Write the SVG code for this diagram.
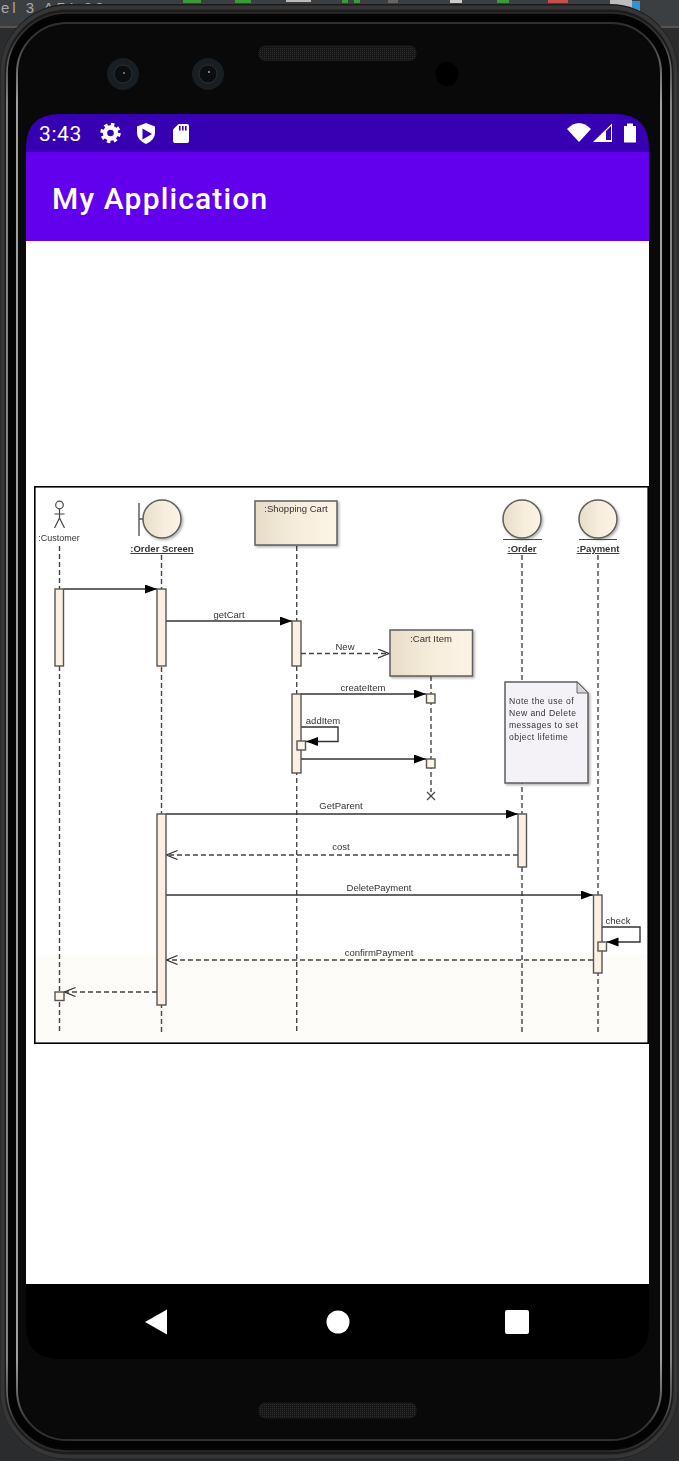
<svg xmlns="http://www.w3.org/2000/svg" width="679" height="1461" viewBox="0 0 679 1461">
<style>
.lbl{font-family:"Liberation Sans",Arial,sans-serif;font-size:9.5px;fill:#333;text-anchor:middle}
.ul{font-weight:bold;text-decoration:underline}
.life{stroke:#444;stroke-width:1.4;stroke-dasharray:5 3;fill:none}
.act{fill:#fbf0e2;stroke:#555;stroke-width:1.4}
.sq{fill:#fcf5e6;stroke:#555;stroke-width:1.4}
.msg{stroke:#333;stroke-width:1.4;fill:none}
.dash{stroke:#444;stroke-width:1.4;fill:none;stroke-dasharray:5 3}
.obj{fill:url(#beige);stroke:#5e5e5e;stroke-width:1.5;filter:url(#shadow)}
.ico{fill:#fff}
</style>
<defs>
<linearGradient id="beige"><stop offset="0" stop-color="#e6dcc8"/><stop offset=".55" stop-color="#f7eedd"/><stop offset="1" stop-color="#fbf3e4"/></linearGradient>
<linearGradient id="shine" gradientUnits="userSpaceOnUse" x1="0" y1="0" x2="0" y2="1461"><stop offset="0" stop-color="#2a2a2a"/><stop offset=".025" stop-color="#333"/><stop offset=".07" stop-color="#a0a0a0"/><stop offset=".93" stop-color="#a0a0a0"/><stop offset=".975" stop-color="#333"/><stop offset="1" stop-color="#2a2a2a"/></linearGradient>
<filter id="shadow" x="-10%" y="-10%" width="125%" height="125%"><feDropShadow dx="1.5" dy="1.5" stdDeviation="1" flood-color="#000" flood-opacity=".3"/></filter>
<filter id="soft" x="0" y="0" width="100%" height="100%"><feGaussianBlur stdDeviation="0.5"/></filter>
<pattern id="mesh" width="2" height="2" patternUnits="userSpaceOnUse"><rect width="2" height="2" fill="#161616"/><rect width="1" height="1" fill="#2e2e2e"/></pattern>
<marker id="fill" markerWidth="13" markerHeight="10" refX="12" refY="4.5" orient="auto" markerUnits="userSpaceOnUse"><path d="M0 0L12 4.5L0 9Z" fill="#000"/></marker>
<marker id="open" markerWidth="12" markerHeight="11" refX="11" refY="5" orient="auto" markerUnits="userSpaceOnUse"><path d="M0 .5L11 5L0 9.5" fill="none" stroke="#333" stroke-width="1.2"/></marker>
</defs>

<g id="desktop">
<rect width="679" height="1461" fill="#2b2c2d"/>
<rect width="679" height="26" fill="#3c3f41"/>
<rect y="26" width="679" height="2" fill="#555"/>
<text x="1" y="13" font-family="'Liberation Sans',Arial,sans-serif" font-size="15" letter-spacing="3" fill="#a9a9a9">el 3 API 30</text>
<rect x="183" y="0" width="18" height="3" fill="#3c9a3c"/><rect x="235" y="0" width="16" height="3" fill="#3c9a3c"/>
<rect x="286" y="0" width="25" height="2" fill="#bbb"/><rect x="342" y="0" width="6" height="3" fill="#3c9a3c"/><rect x="354" y="0" width="6" height="3" fill="#3c9a3c"/>
<rect x="388" y="0" width="10" height="3" fill="#666"/><rect x="450" y="0" width="12" height="3" fill="#ccc"/><rect x="497" y="0" width="12" height="3" fill="#3c9a3c"/>
<rect x="548" y="0" width="20" height="3" fill="#c44f4f"/><rect x="610" y="0" width="22" height="9" fill="#bdbdbd"/><rect x="632" y="1" width="8" height="14" fill="#3592d0"/>
</g>

<g id="phone">
<rect x="0" y="4" width="678" height="1455.5" rx="68" fill="#1c1c1c"/>
<rect x="2.5" y="7.5" width="673" height="1449" rx="65" fill="none" stroke="#363636" stroke-width="4"/>
<rect x="7" y="13" width="664" height="1438" rx="60" fill="#050505" stroke="url(#shine)" stroke-width="1.6" />
<rect x="12" y="19" width="654" height="1426" rx="56" fill="none" stroke="#030303" stroke-width="6"/>
<rect x="17" y="23" width="644" height="1417" rx="50" fill="#090909" stroke="url(#shine)" stroke-width="2"/>
<rect x="19.5" y="26" width="639" height="1412" rx="47" fill="#090909"/>
<g id="cameras">
<ellipse cx="123" cy="74" rx="16" ry="16" fill="#181e22"/><circle cx="123" cy="74" r="9" fill="#0b0d0f" stroke="#2b3034"/><circle cx="124" cy="73" r="1" fill="#889"/>
<ellipse cx="208" cy="74" rx="16" ry="16" fill="#181e22"/><circle cx="208" cy="74" r="9" fill="#0b0d0f" stroke="#2b3034"/><circle cx="209" cy="72" r="1" fill="#aab"/>
<ellipse cx="447" cy="74" rx="11.5" ry="12" fill="#000"/>
</g>
<rect id="speaker-top" x="259" y="46" width="157" height="14.5" rx="6" fill="url(#mesh)" stroke="#1c1c1c"/>
<rect id="speaker-bottom" x="259" y="1403" width="157" height="15" rx="6" fill="url(#mesh)" stroke="#1c1c1c"/>
</g>

<g id="screen">
<path d="M26 152V148Q26 114 60 114H615Q649 114 649 148V152Z" fill="#3700b3"/>
<rect x="26" y="152" width="623" height="89" fill="#6200ee"/>
<rect x="26" y="241" width="623" height="1043" fill="#fff"/>
<path d="M26 1284H649V1325Q649 1359 615 1359H60Q26 1359 26 1325Z" fill="#000"/>
<text x="39" y="141" font-family="Roboto,sans-serif" font-size="21" letter-spacing=".6" fill="#fff">3:43</text>
<g id="status-left">
<circle cx="110.5" cy="133" r="8.5" fill="none" stroke="#fff" stroke-width="3.4" stroke-dasharray="3.4 3.3"/>
<circle cx="110.5" cy="133" r="5.5" fill="none" stroke="#fff" stroke-width="4.4"/>
<path class="ico" d="M146 123L155 126.5V133Q155 140 146 144Q137 140 137 133V126.5Z"/>
<path d="M142.5 128.5L152 134L142.5 139.5Z" fill="#3700b3"/>
<path class="ico" d="M178.5 124H187Q189 124 189 126V141Q189 143 187 143H175Q173 143 173 141V129.5Z"/>
<path d="M179 126h1.6v4.5H179zM182 126h1.6v4.5H182zM185 126h1.6v4.5H185z" fill="#3700b3"/>
</g>
<g id="status-right">
<path class="ico" d="M567 129Q579 117 591 129L579 142Z"/>
<path class="ico" d="M593 142L612 123.5V142ZM606 131V140H611V126Z" fill-rule="evenodd"/>
<path class="ico" d="M627 123.5H633V126H636V142.5H624V126H627Z"/>
</g>
<text x="52" y="209" font-family="Roboto,sans-serif" font-weight="500" font-size="30" letter-spacing="1.15" fill="#fff">My Application</text>
<path class="ico" d="M145 1322L167 1309.5V1334.5Z"/>
<circle class="ico" cx="338" cy="1322" r="11.5"/>
<rect class="ico" x="505" y="1310" width="24" height="24" rx="2"/>
</g>

<g id="diagram" filter="url(#soft)">
<g id="frame">
<rect x="34.5" y="486.5" width="614" height="557" fill="#fff"/>
<rect x="35" y="955" width="613" height="88" fill="#fdfcf8"/>
<rect x="34.5" y="486.5" width="614" height="557" fill="none" stroke="#000" stroke-width="2.2"/>
</g>
<g id="connectors">
<path class="life" d="M59.5 546V1032"/>
<path class="life" d="M161.5 555V1032"/>
<path class="life" d="M296.7 546V1032"/>
<path class="life" d="M431 676V792"/>
<path class="life" d="M522 555V1032"/>
<path class="life" d="M598 555V1032"/>
<path class="msg" marker-end="url(#fill)" d="M63.5 589H157"/>
<path class="msg" marker-end="url(#fill)" d="M166 621H292"/>
<path class="dash" marker-end="url(#open)" d="M301 653.5H389"/>
<path class="msg" marker-end="url(#fill)" d="M301 694H426"/>
<path class="msg" marker-end="url(#fill)" d="M301 727H338V741.5H306"/>
<path class="msg" marker-end="url(#fill)" d="M301 759H426"/>
<path class="msg" marker-end="url(#fill)" d="M166 814H518"/>
<path class="dash" marker-end="url(#open)" d="M518 855H166.5"/>
<path class="msg" marker-end="url(#fill)" d="M166 895H593"/>
<path class="msg" marker-end="url(#fill)" d="M602 927H640V942H606.5"/>
<path class="dash" marker-end="url(#open)" d="M593 960H166.5"/>
<path class="dash" marker-end="url(#open)" d="M157 992H64.5"/>
<path d="M427 792L435 800M435 792L427 800" stroke="#444" stroke-width="1.2"/>
</g>
<g id="customer">
<circle cx="59.5" cy="505" r="3.8" fill="#fff" stroke="#444" stroke-width="1.2"/>
<path d="M59.5 509V518M54.5 514H64.5M59.5 518L54.5 528M59.5 518L64.5 528" stroke="#444" stroke-width="1.2" fill="none"/>
<text class="lbl" x="59" y="541" style="font-size:9px">:Customer</text>
<rect class="act" x="55" y="589" width="8.5" height="77"/>
<rect class="sq" x="55" y="992" width="9" height="8.5"/>
</g>
<g id="order-screen">
<path d="M139 503V536M139 519H143" stroke="#555" stroke-width="1.4" fill="none"/>
<circle class="obj" cx="162" cy="519" r="19"/>
<text class="lbl ul" x="162" y="552">:Order Screen</text>
<rect class="act" x="157" y="589" width="9" height="77"/>
<rect class="act" x="157" y="814" width="9" height="191"/>
</g>
<g id="shopping-cart">
<rect class="obj" x="255" y="501" width="82" height="44"/>
<text class="lbl" x="296" y="512">:Shopping Cart</text>
<rect class="act" x="292" y="621" width="9" height="45"/>
<rect class="act" x="292" y="694" width="9" height="79"/>
<rect class="sq" x="297" y="741" width="8.5" height="9"/>
</g>
<g id="cart-item">
<rect class="obj" x="390" y="630" width="82.5" height="46"/>
<text class="lbl" x="431" y="642">:Cart Item</text>
<rect class="sq" x="426.5" y="694" width="8.5" height="9"/>
<rect class="sq" x="426.5" y="759" width="8.5" height="9"/>
</g>
<g id="order">
<circle class="obj" cx="522" cy="519" r="19"/>
<path d="M503 539.5H542" stroke="#444" stroke-width="1.2"/>
<text class="lbl ul" x="522" y="552">:Order</text>
<rect class="act" x="518" y="814" width="8.5" height="53"/>
</g>
<g id="payment">
<circle class="obj" cx="598" cy="519" r="19"/>
<path d="M579 539.5H617" stroke="#444" stroke-width="1.2"/>
<text class="lbl ul" x="598" y="552">:Payment</text>
<rect class="act" x="593.5" y="895" width="8.5" height="78"/>
<rect class="sq" x="598" y="942" width="8.5" height="9"/>
</g>
<g id="note">
<path d="M505 682H577L588 693V783H505Z" fill="#f5f2f7" stroke="#5e5e5e" stroke-width="1.5" filter="url(#shadow)"/>
<path d="M577 682V693H588Z" fill="#d8d6da" stroke="#666" stroke-width="1"/>
<text font-family="'Liberation Sans',Arial,sans-serif" font-size="8.6" fill="#333" letter-spacing=".45">
<tspan x="509" y="704">Note the use of</tspan>
<tspan x="509" y="716">New and Delete</tspan>
<tspan x="509" y="728">messages to set</tspan>
<tspan x="509" y="740">object lifetime</tspan>
</text>
</g>
<g id="message-labels">
<text class="lbl" x="229" y="618">getCart</text>
<text class="lbl" x="345" y="650">New</text>
<text class="lbl" x="363" y="691">createItem</text>
<text class="lbl" x="323" y="724">addItem</text>
<text class="lbl" x="341" y="809">GetParent</text>
<text class="lbl" x="341" y="850">cost</text>
<text class="lbl" x="379" y="891">DeletePayment</text>
<text class="lbl" x="618" y="924">check</text>
<text class="lbl" x="379" y="956">confirmPayment</text>
</g>
</g>
</svg>
